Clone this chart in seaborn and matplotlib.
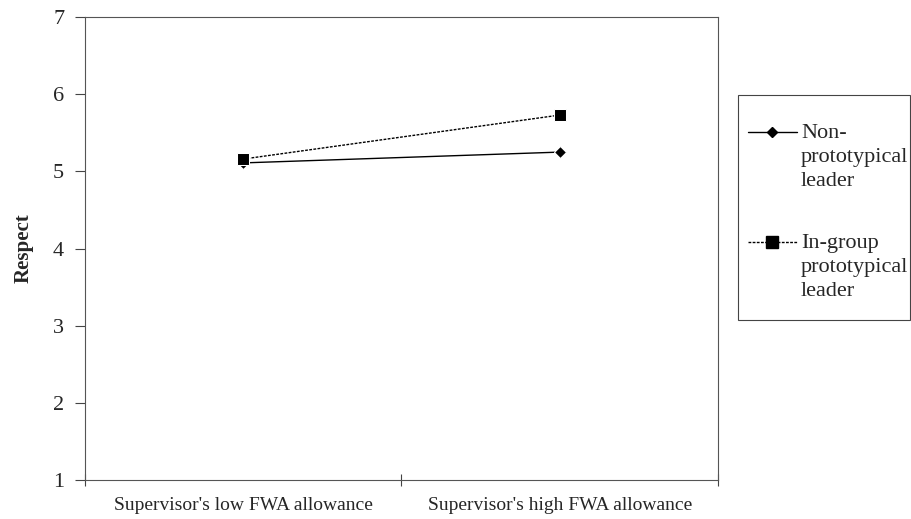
import pandas as pd
import matplotlib
matplotlib.use("Agg")
import matplotlib.pyplot as plt
import seaborn as sns
from matplotlib.lines import Line2D
from matplotlib.patches import Rectangle

# datos
condiciones = ["Supervisor's low FWA allowance", "Supervisor's high FWA allowance"]
no_prototipico = [5.11, 5.25]
prototipico = [5.16, 5.73]
grupos = ["Non-\nprototypical\nleader", "In-group\nprototypical\nleader"]

df = pd.DataFrame({
    "x": [0, 1, 0, 1],
    "respect": no_prototipico + prototipico,
    "grupo": [grupos[0]] * 2 + [grupos[1]] * 2,
})

sns.set_style("white")
plt.rcParams["font.family"] = ["Liberation Serif", "DejaVu Serif"]

fig = plt.figure(figsize=(9.12, 5.19), dpi=100)
ax = fig.add_axes([0.0932, 0.0751, 0.694, 0.892])

sns.lineplot(data=df, x="x", y="respect", hue="grupo", style="grupo",
             palette=["black", "black"], markers=["D", "s"],
             dashes=[(None, None), (2, 1)], linewidth=1.0,
             ax=ax, legend=False)
ax.lines[0].set_markersize(6)
ax.lines[1].set_markersize(8)

ax.set_xlim(-0.5, 1.5)
ax.set_ylim(1, 7)
ax.set_yticks(range(1, 8))
ax.set_yticklabels([str(i) for i in range(1, 8)], fontsize=16)
ax.set_xticks([-0.5, 0.5, 1.5])
ax.set_xticklabels([])
ax.set_xticks([0, 1], minor=True)
ax.set_xticklabels(condiciones, minor=True, fontsize=14)
ax.tick_params(axis="x", which="minor", bottom=False, length=0, pad=12)
ax.tick_params(axis="x", which="major", bottom=True, direction="inout", length=8, width=0.8, color="#444444")
ax.tick_params(axis="y", left=True, direction="out", length=7, width=0.8, color="#444444", pad=8)
for s in ax.spines.values():
    s.set_color("#555555")
    s.set_linewidth(0.8)
ax.set_xlabel("")
ax.set_ylabel("Respect", fontsize=15, fontweight="bold", labelpad=14)

# leyenda dibujada a mano (caja a la derecha)
W, H = 912.0, 519.0
fig.add_artist(Rectangle((738 / W, 1 - 320 / H), 172 / W, 225 / H,
                         transform=fig.transFigure, fill=False,
                         edgecolor="#444444", linewidth=0.8))
estilos = [dict(ls="-", marker="D", markersize=5),
           dict(ls=(0, (2, 1)), marker="s", markersize=8)]
y_handle = [132, 242]
for grupo, est, yh in zip(grupos, estilos, y_handle):
    fig.add_artist(Line2D([748 / W, 772 / W, 797 / W], [1 - yh / H] * 3,
                          transform=fig.transFigure, color="black", lw=1.0,
                          markevery=[1], **est))
    for i, linea in enumerate(grupo.split("\n")):
        fig.text(801 / W, 1 - (yh + 6 + i * 24) / H, linea, fontsize=16,
                 ha="left", va="baseline")

fig.savefig("out.png", dpi=100)
